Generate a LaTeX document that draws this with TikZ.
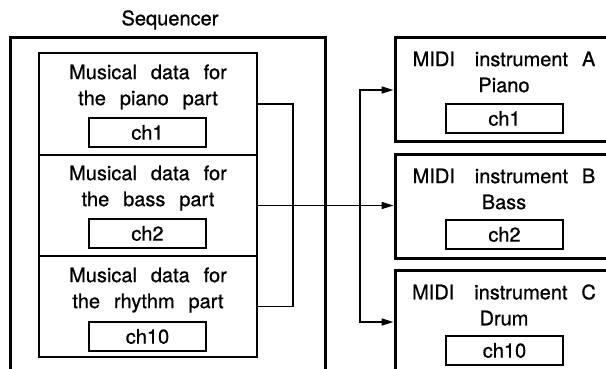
\documentclass[tikz,border=0pt]{standalone}
\usepackage{fontspec}
\setmainfont[WordSpace=2.5,FakeBold=0.8]{TeX Gyre Heros}
\usetikzlibrary{arrows.meta}
\newcommand{\wsp}{\hspace{6pt}}
\begin{document}
\begin{tikzpicture}[x=1pt,y=-1pt,
  outerbox/.style={draw,line width=3pt,inner sep=0pt,rectangle},
  partbox/.style={draw,line width=1.5pt,inner sep=0pt,rectangle,minimum width=218pt},
  chbox/.style={draw,line width=1.5pt,minimum width=117pt,minimum height=29pt,inner sep=0pt,font=\fontsize{20}{26}\selectfont},
  txt/.style={align=center,inner sep=0pt,font=\fontsize{20}{26}\selectfont},
  conn/.style={line width=1.5pt},
  arr/.style={conn,-{Triangle[length=12pt,width=7pt]}}]
\useasboundingbox (0,0) rectangle (606,369);
\clip (0,0) rectangle (606,369);
% sequencer
\node[txt] (seqlabel) at (170,20) {Sequencer};
\node[outerbox,minimum width=315pt,minimum height=362pt] (seq) at (167.5,219) {};
\node[partbox,minimum height=102pt] (piano) at (148,104) {};
\node[partbox,minimum height=101pt] (bass) at (148,205.5) {};
\node[partbox,minimum height=101pt] (rhythm) at (148,306.5) {};
\node[txt] (pianotxt) at (148,87) {Musical data for\\the piano part};
\node[txt] (basstxt) at (148,188) {Musical data for\\the bass part};
\node[txt] (rhythmtxt) at (148,290) {Musical data for\\the rhythm part};
\node[chbox] (pch) at (147.5,132.5) {ch1};
\node[chbox] (bch) at (147.5,233.5) {ch2};
\node[chbox] (rch) at (147.5,336.5) {ch10};
% instruments
\node[outerbox,minimum width=225pt,minimum height=104pt] (instA) at (507.5,90) {};
\node[outerbox,minimum width=225pt,minimum height=103pt] (instB) at (507.5,206.5) {};
\node[outerbox,minimum width=225pt,minimum height=104pt] (instC) at (507.5,322) {};
\node[txt] (atxt) at (504,72) {MIDI\wsp{} instrument A\\Piano};
\node[txt] (btxt) at (504,189) {MIDI\wsp{} instrument B\\Bass};
\node[txt] (ctxt) at (504,305) {MIDI\wsp{} instrument C\\Drum};
\node[chbox] (ach) at (504.5,118.5) {ch1};
\node[chbox] (bich) at (504.5,234.5) {ch2};
\node[chbox] (cch) at (504.5,350.5) {ch10};
% connectors
\coordinate (j1) at (293,205.5);
\coordinate (j2) at (360,205.5);
\draw[conn] (piano.east) -| (j1) |- (rhythm.east);
\draw[arr] (bass.east) -- (bass.east -| instB.west);
\draw[arr] (j2) |- (instA.west);
\draw[arr] (j2) |- (instC.west);
\end{tikzpicture}
\end{document}
